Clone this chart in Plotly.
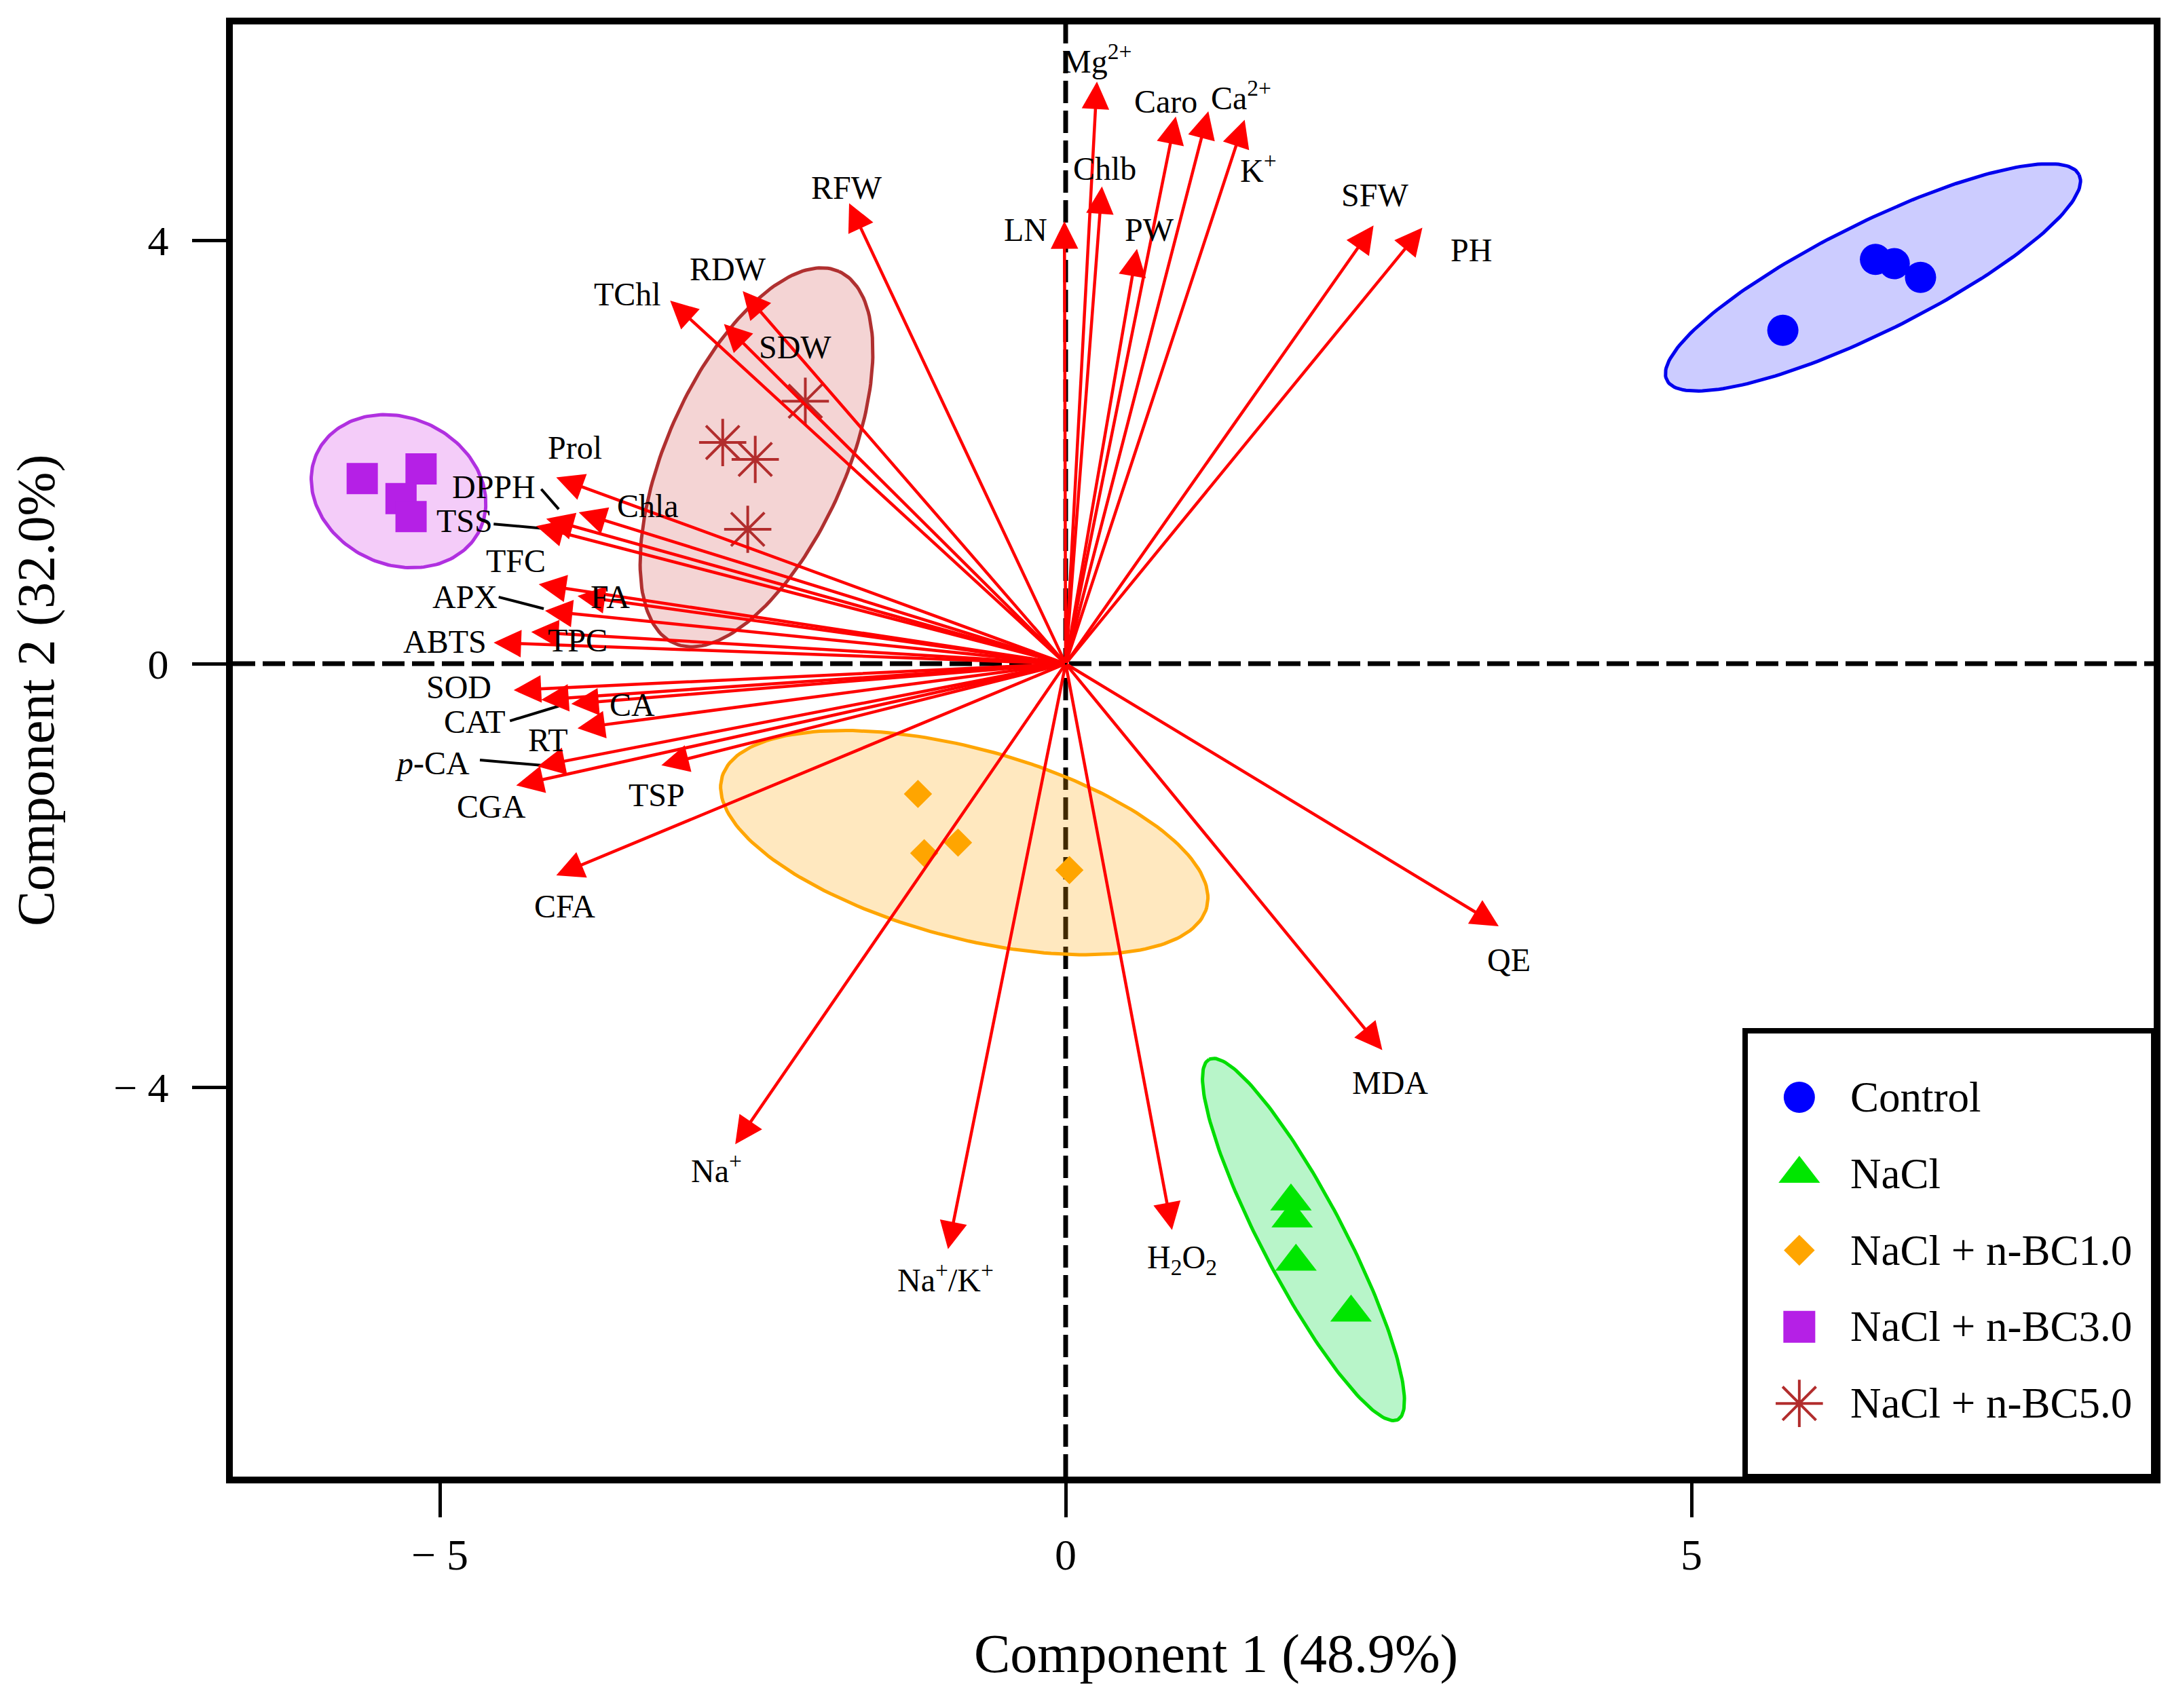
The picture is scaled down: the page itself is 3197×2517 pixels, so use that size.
import numpy as np
import plotly.graph_objects as go

# ---------------- data ----------------
var_names = ["Mg<sup>2+</sup>", "Caro", "Ca<sup>2+</sup>", "K<sup>+</sup>", "Chlb", "LN", "PW",
             "SFW", "PH", "RFW", "RDW", "TChl", "SDW", "Prol", "DPPH", "TSS", "Chla",
             "TFC", "APX", "FA", "ABTS", "TPC", "SOD", "CAT", "CA", "RT", "<i>p</i>-CA",
             "CGA", "TSP", "CFA", "Na<sup>+</sup>", "Na<sup>+</sup>/K<sup>+</sup>",
             "H<sub>2</sub>O<sub>2</sub>", "MDA", "QE"]
load_pc1 = [0.25, 0.88, 1.14, 1.43, 0.29, -0.01, 0.57, 2.46, 2.85, -1.73, -2.58, -3.16,
            -2.73, -4.07, -4.15, -4.23, -3.89, -4.21, -4.16, -3.90, -4.57, -4.27, -4.41,
            -4.19, -3.95, -3.90, -4.22, -4.39, -3.23, -4.07, -2.64, -0.94, 0.85, 2.53, 3.46]
load_pc2 = [5.50, 5.17, 5.22, 5.14, 4.51, 4.18, 3.92, 4.14, 4.12, 4.35, 3.52, 3.43, 3.21,
            1.76, 1.37, 1.30, 1.43, 0.75, 0.50, 0.64, 0.20, 0.30, -0.25, -0.34, -0.38,
            -0.61, -0.97, -1.15, -0.96, -2.00, -4.54, -5.53, -5.35, -3.65, -2.48]
label_pc1 = [0.25, 0.80, 1.40, 1.54, 0.31, -0.32, 0.67, 2.47, 3.24, -1.75, -2.70, -3.50,
             -2.16, -3.92, -4.57, -4.80, -3.34, -4.39, -4.80, -3.64, -4.96, -3.90, -4.85,
             -4.72, -3.46, -4.14, -5.06, -4.59, -3.27, -4.00, -2.79, -0.96, 0.93, 2.59, 3.54]
label_pc2 = [5.71, 5.31, 5.37, 4.68, 4.68, 4.10, 4.10, 4.43, 3.91, 4.50, 3.73, 3.49, 2.99,
             2.04, 1.67, 1.35, 1.49, 0.97, 0.63, 0.63, 0.21, 0.22, -0.22, -0.55, -0.39,
             -0.72, -0.94, -1.35, -1.24, -2.29, -4.77, -5.80, -5.63, -3.96, -2.80]

# leader lines (label -> arrow) for crowded labels
leader_from_pc1 = [-4.19, -4.57, -4.53, -4.44, -4.68]
leader_from_pc2 = [1.65, 1.32, 0.63, -0.54, -0.91]
leader_to_pc1 = [-4.05, -4.19, -4.17, -4.05, -4.19]
leader_to_pc2 = [1.46, 1.28, 0.52, -0.40, -0.96]

groups = ["Control", "NaCl", "NaCl + n-BC1.0", "NaCl + n-BC3.0", "NaCl + n-BC5.0"]
score_pc1 = [
    [5.73, 6.47, 6.62, 6.83],
    [1.80, 1.81, 1.84, 2.28],
    [-1.18, -1.13, -0.86, 0.03],
    [-5.62, -5.15, -5.31, -5.23],
    [-2.08, -2.74, -2.48, -2.54],
]
score_pc2 = [
    [3.15, 3.82, 3.78, 3.65],
    [-5.08, -5.24, -5.65, -6.13],
    [-1.23, -1.79, -1.69, -1.95],
    [1.75, 1.84, 1.56, 1.39],
    [2.48, 2.09, 1.93, 1.27],
]
# group ellipses: centre and two conjugate semi-diameters (PC units)
ell_cx = [6.45, 1.90, -0.81, -5.33, -2.47]
ell_cy = [3.65, -5.44, -1.69, 1.63, 1.95]
ell_a = [(1.647, 0.970), (-0.753, 1.702), (1.937, -0.613), (0.652, -0.359), (0.658, 1.757)]
ell_b = [(-0.194, 0.460), (-0.290, -0.179), (0.196, 0.864), (0.248, 0.628), (-0.657, 0.344)]

x_tickvals = [-5, 0, 5]
x_ticktext = ["\u2212 5", "0", "5"]
y_tickvals = [-4, 0, 4]
y_ticktext = ["\u2212 4", "0", "4"]

# ---------------- style ----------------
FONT = "Liberation Serif"
W, H = 3189, 2509
ML, MR, MT, MB = 335, 24, 28, 341
marker_color = ["#0000FF", "#00E600", "#FFA500", "#B520E6", "#B22D2D"]
marker_symbol = ["circle", "triangle-up", "diamond", "square", "asterisk-open"]
marker_size = [46, 53, 32, 46, 58]
ell_line = ["#0000EE", "#00DD00", "#FFA500", "#B030E0", "#B03030"]
ell_fill = ["rgba(0,0,255,0.20)", "rgba(0,220,60,0.28)", "rgba(255,165,0,0.25)",
            "rgba(210,50,230,0.25)", "rgba(200,40,40,0.20)"]
leg_symbol_size = [46, 53, 35, 47, 58]

fig = go.Figure()

# ellipses
t = np.linspace(0, 2 * np.pi, 200)
for i in range(len(groups)):
    ex = ell_cx[i] + np.cos(t) * ell_a[i][0] + np.sin(t) * ell_b[i][0]
    ey = ell_cy[i] + np.cos(t) * ell_a[i][1] + np.sin(t) * ell_b[i][1]
    fig.add_trace(go.Scatter(x=ex, y=ey, mode="lines", fill="toself",
                             fillcolor=ell_fill[i], line=dict(color=ell_line[i], width=5),
                             hoverinfo="skip", showlegend=False))

# scores
for i, g in enumerate(groups):
    mk = dict(color=marker_color[i], size=marker_size[i], symbol=marker_symbol[i])
    if marker_symbol[i] == "asterisk-open":
        mk["line"] = dict(color=marker_color[i], width=4)
    else:
        mk["line"] = dict(width=0)
    fig.add_trace(go.Scatter(x=score_pc1[i], y=score_pc2[i], mode="markers", name=g,
                             marker=mk, showlegend=False))

# leader lines
for i in range(len(leader_from_pc1)):
    fig.add_trace(go.Scatter(x=[leader_from_pc1[i], leader_to_pc1[i]],
                             y=[leader_from_pc2[i], leader_to_pc2[i]], mode="lines",
                             line=dict(color="black", width=4), hoverinfo="skip",
                             showlegend=False))

annotations = []
# loading arrows
for i in range(len(var_names)):
    annotations.append(dict(x=load_pc1[i], y=load_pc2[i], ax=0, ay=0, xref="x", yref="y",
                            axref="x", ayref="y", text="", showarrow=True, arrowhead=2,
                            arrowsize=1.8, arrowwidth=4.5, arrowcolor="#FF0000", standoff=0))
# loading labels
for i in range(len(var_names)):
    annotations.append(dict(x=label_pc1[i], y=label_pc2[i], xref="x", yref="y",
                            text=var_names[i], showarrow=False,
                            font=dict(family=FONT, size=48, color="black"),
                            xanchor="center", yanchor="middle"))

# axis titles
annotations.append(dict(x=0.512, y=-0.122, xref="paper", yref="paper",
                        text="Component 1 (48.9%)", showarrow=False,
                        font=dict(family=FONT, size=80, color="black"),
                        xanchor="center", yanchor="middle"))
annotations.append(dict(x=-0.1025, y=0.5416, xref="paper", yref="paper",
                        text="Component 2 (32.0%)", showarrow=False, textangle=-90,
                        font=dict(family=FONT, size=78, color="black"),
                        xanchor="center", yanchor="middle"))

# legend (manual, to allow large symbols)
leg_x0, leg_y1 = 0.7873, 0.3070
leg_sym_x, leg_txt_x = 0.8155, 0.8413
leg_top_y, leg_step = 0.2612, 0.0527
leg_y = [leg_top_y - k * leg_step for k in range(len(groups))]
for i, g in enumerate(groups):
    mk = dict(color=marker_color[i], size=leg_symbol_size[i], symbol=marker_symbol[i])
    if marker_symbol[i] == "asterisk-open":
        mk["line"] = dict(color=marker_color[i], width=4)
    else:
        mk["line"] = dict(width=0)
    fig.add_trace(go.Scatter(x=[leg_sym_x], y=[leg_y[i]], xaxis="x2", yaxis="y2",
                             mode="markers", marker=mk, showlegend=False, hoverinfo="skip"))
    annotations.append(dict(x=leg_txt_x, y=leg_y[i], xref="paper", yref="paper", text=g,
                            showarrow=False, font=dict(family=FONT, size=63, color="black"),
                            xanchor="left", yanchor="middle"))

shapes = [
    dict(type="line", xref="x", yref="paper", x0=0, x1=0, y0=0, y1=1, layer="below",
         line=dict(color="black", width=7, dash="33px,11px")),
    dict(type="line", xref="paper", yref="y", x0=0, x1=1, y0=0, y1=0, layer="below",
         line=dict(color="black", width=7, dash="33px,11px")),
    dict(type="rect", xref="paper", yref="paper", x0=leg_x0, x1=1.0, y0=0.0, y1=leg_y1,
         layer="below", fillcolor="white", line=dict(color="black", width=8)),
]

axis_common = dict(showgrid=False, zeroline=False, showline=True, linecolor="black",
                   linewidth=10, mirror=True, ticks="outside", ticklen=50, tickwidth=5,
                   tickcolor="black")
fig.update_layout(
    width=W, height=H, margin=dict(l=ML, r=MR, t=MT, b=MB),
    paper_bgcolor="white", plot_bgcolor="white", showlegend=False,
    xaxis=dict(range=[-6.654, 8.693], tickvals=x_tickvals, ticktext=x_ticktext,
               tickfont=dict(family=FONT, size=64, color="black"), **axis_common),
    yaxis=dict(range=[-7.68, 6.04], tickvals=y_tickvals, ticktext=y_ticktext,
               ticklabelstandoff=22,
               tickfont=dict(family=FONT, size=62, color="black"), **axis_common),
    xaxis2=dict(overlaying="x", range=[0, 1], visible=False),
    yaxis2=dict(overlaying="y", range=[0, 1], visible=False),
    annotations=annotations, shapes=shapes,
)

fig.write_html("out.html")
